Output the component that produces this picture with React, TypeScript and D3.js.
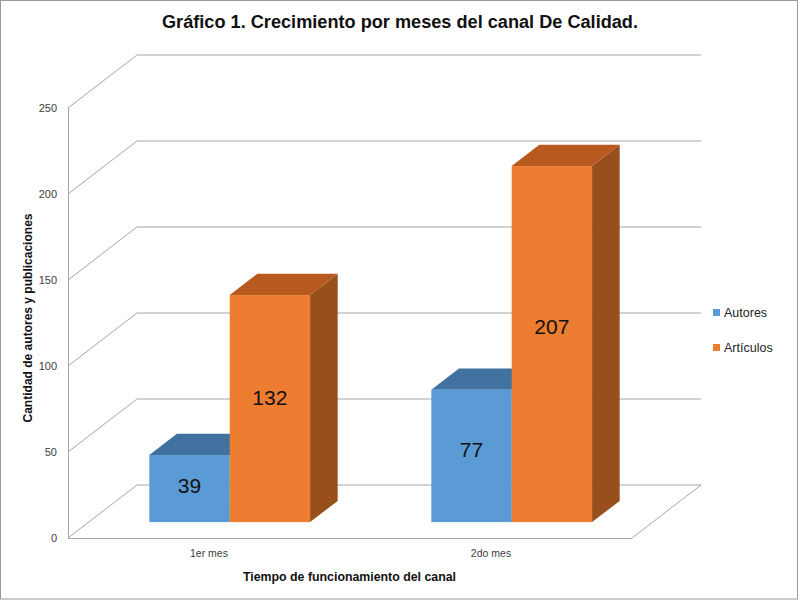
import * as d3 from 'd3'

const categories = ['1er mes', '2do mes']
const series = ['Autores', 'Artículos']
const autores = [39, 77]
const articulos = [132, 207]
const yTicks = [0, 50, 100, 150, 200, 250]

const seriesValues = [autores, articulos]
const colors = {
  Autores: { front: '#5b9bd5', top: '#41729f', side: '#3e6d98' },
  Artículos: { front: '#ed7d31', top: '#b85a20', side: '#994f1c' },
} as Record<string, { front: string; top: string; side: string }>

const W = 800
const H = 600
// depth offset of the 3D floor/walls
const DX = 69
const DY = -53
const zFront = 0.3
const zBack = 0.7

const font = 'Liberation Sans, Arial, sans-serif'

export default function App() {
  const x0 = d3
    .scaleBand<string>()
    .domain(categories)
    .range([68, 632])
    .paddingInner(0.43)
    .paddingOuter(0.215)
  const x1 = d3.scaleBand<string>().domain(series).range([0, x0.bandwidth()])
  const y = d3.scaleLinear().domain([0, 250]).range([538, 108])

  const proj = (px: number, v: number, z: number): [number, number] => [px + z * DX, y(v) + z * DY]
  const poly = (pts: [number, number][]) => pts.map((p) => p.join(',')).join(' ')

  const [x0min, x0max] = x0.range()
  const grid = '#a6a6a6'

  return (
    <svg
      width={W}
      height={H}
      style={{ position: 'absolute', left: 0, top: 0, background: '#fff' }}
      fontFamily={font}
    >
      <rect x={0.5} y={0.5} width={W - 3} height={H - 1.5} fill="#fff" stroke="#9a9a9a" />

      <text x={W / 2} y={28} textAnchor="middle" fontSize={18} fontWeight="bold" fill="#111" textLength={476} lengthAdjust="spacingAndGlyphs">
        Gráfico 1. Crecimiento por meses del canal De Calidad.
      </text>

      {/* walls and gridlines */}
      <g stroke={grid} strokeWidth={1} fill="none" shapeRendering="crispEdges">
        {yTicks.map((t) => {
          const a = proj(x0min, t, 0)
          const b = proj(x0min, t, 1)
          const c = proj(x0max, t, 1)
          return <polyline key={t} points={poly([a, b, c])} shapeRendering="auto" />
        })}
        <line x1={x0min} x2={x0min} y1={y(0)} y2={y(250)} />
        <line x1={x0min} x2={x0max} y1={y(0)} y2={y(0)} />
        <line
          x1={proj(x0max, 0, 0)[0]}
          y1={proj(x0max, 0, 0)[1]}
          x2={proj(x0max, 0, 1)[0]}
          y2={proj(x0max, 0, 1)[1]}
          shapeRendering="auto"
        />
      </g>

      {/* y tick labels */}
      {yTicks.map((t) => (
        <text key={t} x={57} y={y(t)} dy="0.35em" textAnchor="end" fontSize={11} fill="#404040">
          {t}
        </text>
      ))}

      {/* bars */}
      {categories.map((cat, ci) => (
        <g key={cat}>
          {series.map((s, si) => {
            const v = seriesValues[si][ci]
            const bx = x0(cat)! + x1(s)!
            const bw = x1.bandwidth()
            const c = colors[s]
            const f0 = proj(bx, 0, zFront)
            const f1 = proj(bx + bw, v, zFront)
            const lbl = proj(bx + bw / 2, v * 0.55, zFront)
            return (
              <g key={s}>
                <polygon
                  fill={c.side}
                  points={poly([
                    proj(bx + bw, 0, zFront),
                    proj(bx + bw, v, zFront),
                    proj(bx + bw, v, zBack),
                    proj(bx + bw, 0, zBack),
                  ])}
                />
                <polygon
                  fill={c.top}
                  points={poly([
                    proj(bx, v, zFront),
                    proj(bx + bw, v, zFront),
                    proj(bx + bw, v, zBack),
                    proj(bx, v, zBack),
                  ])}
                />
                <rect x={f0[0]} y={f1[1]} width={bw} height={f0[1] - f1[1]} fill={c.front} />
                <text x={lbl[0]} y={lbl[1]} dy="0.35em" textAnchor="middle" fontSize={21} fill="#111">
                  {v}
                </text>
              </g>
            )
          })}
        </g>
      ))}

      {/* category labels */}
      {categories.map((cat) => (
        <text key={cat} x={x0(cat)! + x0.bandwidth() / 2} y={557} textAnchor="middle" fontSize={10.5} fill="#404040">
          {cat}
        </text>
      ))}

      <text x={349.5} y={581} textAnchor="middle" fontSize={12} fontWeight="bold" fill="#111" textLength={213} lengthAdjust="spacingAndGlyphs">
        Tiempo de funcionamiento del canal
      </text>
      <text
        transform="translate(32,318) rotate(-90)"
        textAnchor="middle"
        fontSize={12}
        fontWeight="bold"
        fill="#111"
        textLength={209}
        lengthAdjust="spacingAndGlyphs"
      >
        Cantidad de autores y publicaciones
      </text>

      {/* legend */}
      {series.map((s, i) => (
        <g key={s} transform={`translate(713,${313 + i * 35})`}>
          <rect x={0} y={-4} width={7} height={7} fill={colors[s].front} />
          <text x={11} y={0} dy="0.35em" fontSize={12.5} fill="#222">
            {s}
          </text>
        </g>
      ))}
    </svg>
  )
}
